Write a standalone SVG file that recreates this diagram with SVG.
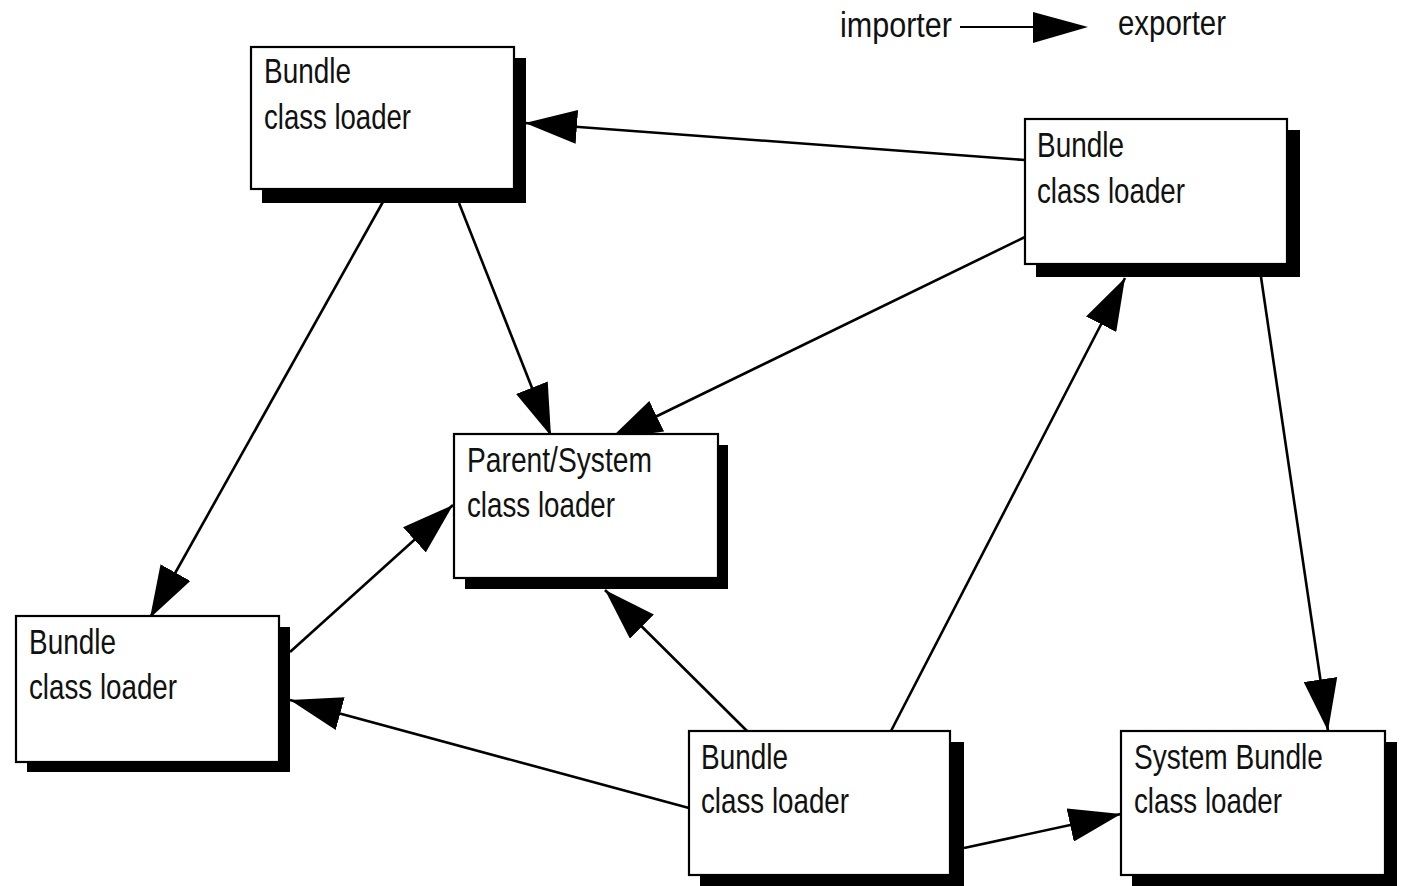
<svg xmlns="http://www.w3.org/2000/svg" width="1402" height="886" viewBox="0 0 1402 886">
<style>
.box{fill:#fff;stroke:#000;stroke-width:2.2}
.sh{fill:#000}
.t{font-family:"Liberation Sans","DejaVu Sans",sans-serif;font-size:35px;fill:#111}
.c{stroke:#000;stroke-width:2.6;fill:none;marker-end:url(#ah)}
</style>
<defs>
<marker id="ah" viewBox="0 -17 52 34" refX="52" refY="0" markerWidth="52" markerHeight="34" markerUnits="userSpaceOnUse" orient="auto">
<path d="M0,-17 L52,0 L0,17 z" fill="#000"/>
</marker>
</defs>
<rect width="1402" height="886" fill="#fff"/>
<g id="legend">
<text class="t" x="840" y="37" textLength="112" lengthAdjust="spacingAndGlyphs">importer</text>
<line x1="960" y1="27" x2="1036" y2="27" stroke="#000" stroke-width="2.2"/>
<path d="M1033,12 L1088,27 L1033,43 z" fill="#000"/>
<text class="t" x="1118" y="35" textLength="108" lengthAdjust="spacingAndGlyphs">exporter</text>
</g>
<g id="connectors">
<line class="c" x1="1025" y1="160" x2="525" y2="123"/>
<line class="c" x1="384" y1="200" x2="150" y2="618"/>
<line class="c" x1="459" y1="203" x2="551" y2="436"/>
<line class="c" x1="1025" y1="237" x2="610" y2="439"/>
<line class="c" x1="290" y1="652" x2="453" y2="505"/>
<line class="c" x1="747" y1="731" x2="605" y2="590"/>
<line class="c" x1="689" y1="808" x2="290" y2="700"/>
<line class="c" x1="891" y1="731" x2="1125" y2="278"/>
<line class="c" x1="1261" y1="277" x2="1328" y2="731"/>
<line class="c" x1="964" y1="848" x2="1121" y2="814"/>
</g>
<g id="node-top-left">
<rect class="sh" x="262" y="58" width="264" height="145"/>
<rect class="box" x="251" y="47" width="263" height="142"/>
<text class="t" x="264" y="83" textLength="87" lengthAdjust="spacingAndGlyphs">Bundle</text>
<text class="t" x="264" y="129" textLength="147" lengthAdjust="spacingAndGlyphs">class loader</text>
</g>
<g id="node-top-right">
<rect class="sh" x="1036" y="130" width="264" height="147"/>
<rect class="box" x="1025" y="119" width="262" height="145"/>
<text class="t" x="1037" y="157" textLength="87" lengthAdjust="spacingAndGlyphs">Bundle</text>
<text class="t" x="1037" y="203" textLength="148" lengthAdjust="spacingAndGlyphs">class loader</text>
</g>
<g id="node-parent">
<rect class="sh" x="465" y="445" width="263" height="144"/>
<rect class="box" x="454" y="434" width="264" height="144"/>
<text class="t" x="467" y="472" textLength="185" lengthAdjust="spacingAndGlyphs">Parent/System</text>
<text class="t" x="467" y="517" textLength="148" lengthAdjust="spacingAndGlyphs">class loader</text>
</g>
<g id="node-bottom-left">
<rect class="sh" x="27" y="627" width="263" height="145"/>
<rect class="box" x="16" y="616" width="263" height="146"/>
<text class="t" x="29" y="654" textLength="87" lengthAdjust="spacingAndGlyphs">Bundle</text>
<text class="t" x="29" y="699" textLength="148" lengthAdjust="spacingAndGlyphs">class loader</text>
</g>
<g id="node-bottom-center">
<rect class="sh" x="700" y="742" width="264" height="146"/>
<rect class="box" x="689" y="731" width="261" height="144"/>
<text class="t" x="701" y="769" textLength="87" lengthAdjust="spacingAndGlyphs">Bundle</text>
<text class="t" x="701" y="813" textLength="148" lengthAdjust="spacingAndGlyphs">class loader</text>
</g>
<g id="node-system-bundle">
<rect class="sh" x="1132" y="742" width="265" height="146"/>
<rect class="box" x="1121" y="731" width="264" height="144"/>
<text class="t" x="1134" y="769" textLength="189" lengthAdjust="spacingAndGlyphs">System Bundle</text>
<text class="t" x="1134" y="813" textLength="148" lengthAdjust="spacingAndGlyphs">class loader</text>
</g>
</svg>
